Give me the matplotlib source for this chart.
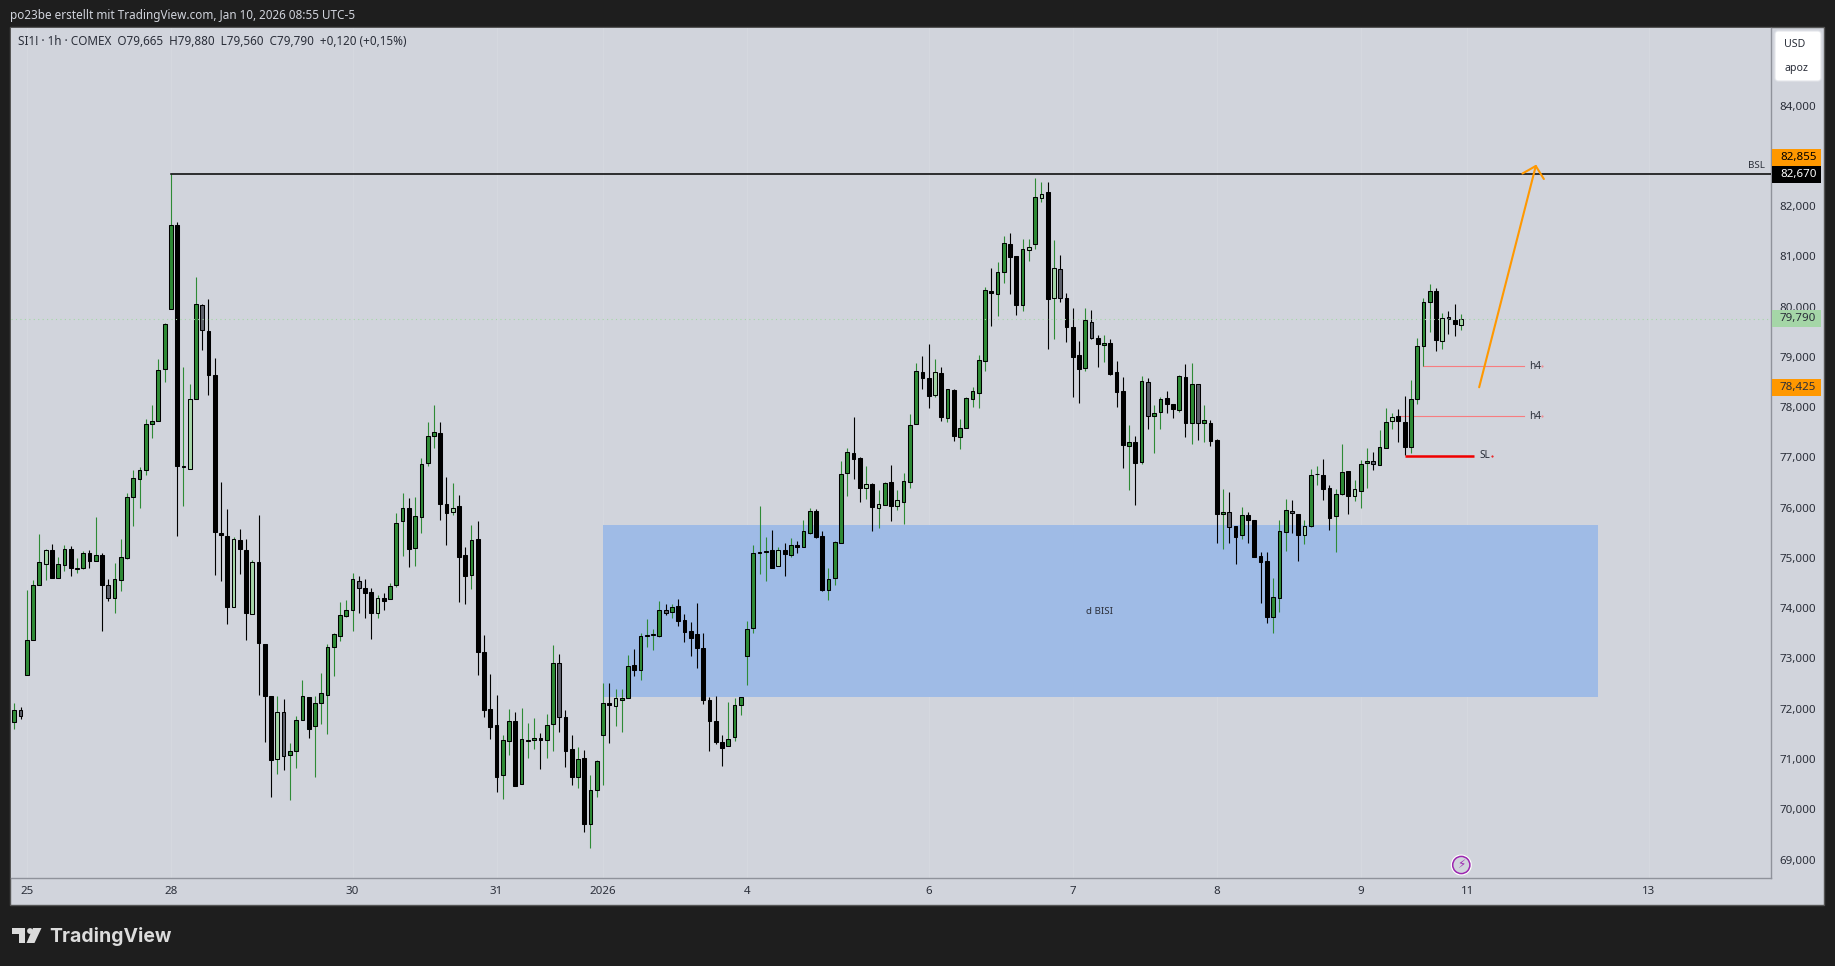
import matplotlib
matplotlib.use('Agg')
import matplotlib.pyplot as plt
from matplotlib.patches import Rectangle, Circle, Polygon, FancyBboxPatch
from matplotlib.transforms import Affine2D

plt.rcParams['font.family'] = ['Noto Sans', 'DejaVu Sans']

# hourly candles, SI1! COMEX
opens = [
    71775, 72000, 72705, 73405, 74485, 74915, 75180, 74640, 74880, 75200,
    74805, 74835, 75120, 74960, 75095, 74485, 74225, 74595, 75035, 76235,
    76605, 76770, 77685, 77745, 78780, 79990, 81645, 76845, 76805, 78185,
    80055, 79540, 78675, 75535, 75460, 74060, 75380, 75180, 73905, 74940,
    73325, 72290, 71025, 71975, 71100, 71180, 71800, 72260, 71680, 72135,
    72310, 73265, 73485, 73880, 74000, 74580, 74425, 74345, 73940, 74225,
    74205, 74485, 75755, 76015, 75220, 75835, 76910, 77450, 77510, 76095,
    75935, 76055, 75080, 74685, 75400, 73150, 72020, 71700, 70705, 71380,
    71780, 70525, 71395, 71400, 71440, 71400, 71720, 72935, 71860, 71220,
    70680, 71045, 69730, 70405, 71500, 72145, 72075, 72210, 72235, 72895,
    72795, 73485, 73505, 73485, 73985, 73945, 74065, 73790, 73570, 73510,
    73230, 72195, 71780, 71360, 71280, 71460, 72095, 73070, 73630, 75130,
    75155, 75180, 74860, 75185, 75095, 75285, 75255, 75530, 75965, 75460,
    74400, 74635, 75335, 76725, 77110, 77010, 76430, 76495, 76030, 76090,
    76535, 76070, 76150, 76545, 77700, 78730, 78605, 78280, 78700, 77820,
    78365, 77440, 77620, 78200, 78320, 78955, 80335, 80285, 80710, 81270,
    81030, 80070, 81160, 81280, 82195, 82305, 80205, 80770, 80195, 79615,
    79060, 78815, 79715, 79400, 79270, 79305, 78720, 78345, 77265, 77330,
    76945, 78525, 77860, 77925, 78205, 78085, 77965, 78625, 77720, 78485,
    77720, 77710, 77370, 75900, 75935, 75660, 75480, 75880, 75780, 75060,
    74965, 73860, 74240, 75555, 75955, 75900, 75495, 75670, 76690, 76675,
    76415, 75860, 76310, 76755, 76270, 76355, 76910, 76950, 76870, 77210,
    77750, 77845, 77730, 77230, 78185, 79240, 80115, 80335, 79340, 79815,
    79755, 79665,
]
highs = [
    72145, 72060, 74390, 74585, 75510, 75210, 75305, 75055, 75285, 75270,
    75025, 75165, 75190, 75845, 75130, 74605, 74930, 75405, 76320, 76780,
    76840, 77795, 78070, 78985, 79695, 82670, 81715, 78830, 78485, 80615,
    80080, 80175, 79005, 76535, 76000, 75440, 75605, 75405, 74990, 75880,
    73325, 72290, 72275, 72225, 71350, 71885, 72605, 72260, 72285, 72740,
    73320, 73545, 74155, 74190, 74725, 74675, 74620, 74430, 74295, 74330,
    74535, 75915, 76320, 76220, 76240, 77010, 77735, 78070, 77735, 76640,
    76520, 76280, 75245, 75685, 75765, 73495, 72720, 72305, 71505, 72020,
    71965, 72045, 71745, 71845, 71540, 71920, 73295, 73110, 72005, 71505,
    71270, 71210, 70710, 71010, 72540, 72540, 72420, 72420, 73100, 73220,
    73535, 73815, 73615, 74175, 74115, 74115, 74210, 73915, 73755, 74135,
    73535, 72265, 72285, 71505, 72165, 72245, 72270, 73770, 75285, 76060,
    75445, 75585, 75245, 75325, 75425, 75365, 75785, 76025, 76005, 75565,
    74830, 75365, 76960, 77215, 77835, 77045, 76860, 76525, 76380, 76540,
    76880, 76380, 76720, 77895, 78910, 79045, 79285, 78985, 78830, 78385,
    78385, 77795, 78225, 78430, 79065, 80420, 80800, 80915, 81435, 81495,
    81030, 81375, 81375, 82590, 82510, 82510, 81355, 81055, 80295, 80000,
    79345, 80000, 79960, 79465, 79465, 79385, 78945, 78630, 77675, 77455,
    78650, 78610, 78070, 78230, 78350, 78085, 78665, 78890, 78910, 78485,
    78070, 77775, 77395, 76400, 76340, 75660, 76045, 75945, 75780, 75150,
    75150, 74640, 75785, 76205, 76185, 75900, 75785, 76800, 76860, 77000,
    76480, 76400, 77295, 76755, 76580, 76970, 77215, 77135, 77575, 78015,
    77905, 77995, 78250, 78570, 79400, 80195, 80480, 80400, 79905, 79940,
    80080, 79880,
]
lows = [
    71630, 71820, 72705, 73405, 74485, 74585, 74640, 74640, 74770, 74680,
    74735, 74805, 74835, 74960, 73585, 74165, 73940, 74370, 75010, 75675,
    76030, 76685, 77415, 77745, 78530, 79990, 75460, 76055, 76805, 78185,
    79175, 78270, 74700, 74580, 73725, 74060, 74715, 73390, 73905, 72310,
    71360, 70265, 70740, 70815, 70220, 70860, 71800, 71440, 70680, 71730,
    71535, 72690, 73370, 73860, 73570, 73925, 73845, 73420, 73830, 74000,
    74205, 74460, 75070, 74855, 74875, 75530, 76865, 77225, 75790, 75295,
    75890, 74160, 74120, 74420, 72705, 71870, 71435, 70380, 70240, 71115,
    70500, 70525, 71055, 71235, 70835, 71055, 71195, 71575, 70875, 70520,
    70460, 69585, 69265, 70280, 70520, 71355, 71695, 71575, 72235, 72685,
    72610, 73265, 73205, 73465, 73900, 73840, 73680, 73365, 73085, 72845,
    72130, 71195, 71335, 70895, 71280, 71395, 71905, 72510, 73545, 74715,
    74575, 74835, 74860, 74675, 75050, 75130, 75255, 75510, 75425, 74370,
    74195, 74490, 75335, 76270, 76605, 76150, 76200, 75570, 75630, 76090,
    75770, 75985, 75705, 76430, 77700, 78395, 78020, 78230, 77760, 77735,
    77365, 77205, 77620, 78030, 78020, 78755, 79645, 79850, 80505, 80280,
    79865, 79950, 80935, 81180, 82115, 79195, 79385, 80130, 79330, 78240,
    78120, 78755, 79390, 78835, 78935, 78675, 78040, 76825, 76390, 76090,
    76905, 77600, 77115, 77600, 77915, 77815, 77940, 77435, 77305, 77375,
    77335, 77265, 75335, 75215, 75335, 74915, 75400, 75335, 75055, 74140,
    73740, 73545, 73960, 75175, 75535, 74975, 75315, 75650, 76490, 76190,
    75590, 75155, 76290, 75910, 76170, 76030, 76430, 76785, 76870, 77210,
    77600, 77345, 77070, 77125, 78100, 78850, 79530, 79155, 79195, 79490,
    79450, 79560,
]
closes = [
    72000, 71880, 73405, 74500, 74940, 75180, 74640, 74900, 75200, 74820,
    74835, 75120, 74960, 75095, 74485, 74225, 74605, 75045, 76235, 76615,
    76770, 77685, 77745, 78760, 79675, 81645, 76865, 76850, 78200, 80075,
    79555, 78660, 75555, 75495, 74060, 75415, 75200, 73925, 74940, 73345,
    72290, 71015, 71975, 71085, 71180, 71800, 72275, 71635, 72135, 72335,
    73265, 73510, 73890, 73985, 74605, 74440, 74335, 73940, 74225, 74180,
    74465, 75730, 76015, 75215, 75855, 76890, 77450, 77530, 76110, 75930,
    76015, 75055, 74675, 75380, 73165, 72010, 71675, 70680, 71400, 71780,
    70500, 71420, 71405, 71440, 71400, 71710, 72935, 71860, 71195, 70680,
    71025, 69730, 70405, 70985, 72135, 72110, 72235, 72245, 72875, 72795,
    73470, 73495, 73515, 73985, 73925, 74045, 73780, 73565, 73445, 73245,
    72210, 71790, 71375, 71255, 71435, 72095, 72255, 73610, 75120, 75140,
    75165, 74835, 75180, 75115, 75280, 75255, 75560, 75955, 75455, 74390,
    74605, 75340, 76695, 77130, 77005, 76430, 76495, 76050, 76095, 76515,
    76070, 76175, 76555, 77670, 78740, 78615, 78260, 78720, 77840, 78385,
    77460, 77610, 78205, 78345, 78960, 80355, 80305, 80710, 81290, 81025,
    80070, 81170, 81210, 82205, 82265, 80185, 80790, 80195, 79630, 79035,
    78795, 79755, 79410, 79290, 79300, 78695, 78335, 77285, 77330, 76925,
    78545, 77860, 77905, 78185, 78085, 77985, 78645, 77720, 78485, 77720,
    77765, 77365, 75900, 75935, 75640, 75455, 75880, 75790, 75055, 74955,
    73860, 74245, 75560, 75975, 75915, 75495, 75660, 76675, 76700, 76410,
    75830, 76295, 76735, 76270, 76395, 76890, 76950, 76890, 77230, 77730,
    77825, 77750, 77230, 78185, 79240, 80115, 80335, 79360, 79795, 79775,
    79675, 79790,
]
# candles TradingView paints in the paler colour
pale = [1, 5, 10, 15, 28, 30, 35, 38, 42, 43, 55, 58, 70, 87, 96, 104, 122, 136,
        138, 141, 147, 162, 164, 166, 167, 172, 181, 189, 194, 204, 206, 214,
        217, 220, 228, 229, 231]

price_ticks = [69000, 70000, 71000, 72000, 73000, 74000, 75000, 76000,
               77000, 78000, 79000, 80000, 81000, 82000, 84000]
date_pos = [2, 25, 54, 77, 94, 117, 146, 169, 192, 215, 232, 261]
date_labels = ['25', '28', '30', '31', '2026', '4', '6', '7', '8', '9', '11', '13']

bsl_level = 82670
last_price = 79790
target_price = 82855
entry_price = 78425
h4_levels = [78842, 77847]
h4_starts = [225, 221]
sl_level = 77063
zone_top = 75680
zone_bottom = 72260

BG = '#d1d4dc'
DARK = '#1e1e1e'
GREEN = '#2e8b36'
LIGHT = '#a5d6a7'
GREY = '#5d606b'
ORANGE = '#ff9800'
TXT = '#2a2e39'
W, H = 1835, 966

fig = plt.figure(figsize=(W / 100, H / 100), dpi=100, facecolor=DARK)
# top-left pixel coordinates for everything around the chart
pix = Affine2D().scale(1 / W, -1 / H).translate(0, 1) + fig.transFigure

fig.add_artist(Rectangle((10, 27), 1814, 878, transform=pix, fc=BG, ec='#555555', lw=1, zorder=-2))

ax = fig.add_axes([11 / W, 1 - 878 / H, 1760 / W, 850 / H], facecolor=BG)
ax.set_xlim(-0.53, 280.5)
ax.set_ylim(68663, 85572)
for name in ['top', 'left']:
    ax.spines[name].set_visible(False)
for name in ['right', 'bottom']:
    ax.spines[name].set_color('#8f929b')
    ax.spines[name].set_linewidth(1)

ax.yaxis.tick_right()
ax.set_yticks(price_ticks)
ax.set_yticklabels([f'{p:,}' for p in price_ticks])
ax.set_xticks(date_pos)
ax.set_xticklabels(date_labels)
ax.tick_params(axis='y', length=0, pad=6, labelsize=8.3, labelcolor=TXT)
ax.tick_params(axis='x', length=0, pad=6, labelsize=8.3, labelcolor=TXT)
for lab in ax.get_yticklabels():
    lab.set_va('center')
ax.get_xticklabels()[4].set_fontweight('bold')
ax.grid(axis='x', color='#d6d9e0', lw=0.7)
ax.set_axisbelow(True)

# blue zone
ax.add_patch(Rectangle((94, zone_bottom), 158.8, zone_top - zone_bottom, fc='#9fbbe6', ec='none', zorder=1))
ax.text(173.3, (zone_top + zone_bottom) / 2, 'd BISI', fontsize=7, color=TXT, ha='center', va='center', zorder=2)

# candles
xs = list(range(len(opens)))
wick_cols, body_cols, bottoms, heights = [], [], [], []
for i in xs:
    up = closes[i] >= opens[i]
    wick_cols.append(GREEN if up else 'black')
    if up:
        body_cols.append(LIGHT if i in pale else GREEN)
    else:
        body_cols.append(GREY if i in pale else 'black')
    bottoms.append(min(opens[i], closes[i]))
    heights.append(abs(closes[i] - opens[i]))
ax.vlines(xs, lows, highs, colors=wick_cols, lw=0.8, zorder=3)
ax.bar(xs, heights, bottom=bottoms, width=0.6, color=body_cols, edgecolor='black', lw=0.75, zorder=4)

# levels
ax.plot([25, 280.5], [bsl_level, bsl_level], color='black', lw=1.1, zorder=5)
ax.text(1765, 165.5, 'BSL', transform=pix, fontsize=7, color=TXT, ha='right', va='center')
ax.axhline(last_price, color=LIGHT, lw=0.8, ls=(0, (1, 3)), zorder=5)
for level, start in zip(h4_levels, h4_starts):
    ax.plot([start, 241.1], [level, level], color='#f77c80', lw=0.8, zorder=2.5)
    ax.text(241.8, level, 'h4', fontsize=7.2, color=TXT, va='center')
    ax.plot([244], [level], marker='.', ms=1, color='#f77c80')
ax.plot([222, 233], [sl_level, sl_level], color='#f00000', lw=1.8, zorder=5, solid_capstyle='butt')
ax.text(234, sl_level, 'SL', fontsize=7.2, color=TXT, va='center')
ax.plot([236], [sl_level], marker='.', ms=1, color='#f00000')

# target arrow
ax.annotate('', xy=(243, target_price), xytext=(233.9, entry_price),
            arrowprops=dict(arrowstyle='->,head_length=0.51,head_width=0.53', color=ORANGE,
                            lw=1.5, shrinkA=0, shrinkB=0, mutation_scale=15), zorder=6)

# price tags on the scale
tags = [(149, 166, ORANGE, f'{target_price:,}', 'black', 'normal'),
        (166, 183, 'black', f'{bsl_level:,}', 'white', 'bold'),
        (310, 327, LIGHT, f'{last_price:,}', TXT, 'normal'),
        (379, 396, ORANGE, f'{entry_price:,}', TXT, 'normal')]
for y0, y1, col, label, tcol, weight in tags:
    fig.add_artist(Rectangle((1771.5, y0), 49.5, y1 - y0, transform=pix, fc=col, ec='none', zorder=3))
    fig.text(1780, (y0 + y1) / 2, label, transform=pix, fontsize=8.3, color=tcol, fontweight=weight,
             va='center', ha='left', zorder=4)

# currency / unit box
fig.add_artist(FancyBboxPatch((1777, 33), 42, 46, boxstyle='round,pad=2,rounding_size=3', transform=pix,
                              fc='white', ec='#e3e5ea', lw=0.8, zorder=3))
fig.text(1784, 44.5, 'USD', transform=pix, fontsize=7.6, color=TXT, va='center', zorder=4)
fig.text(1784, 68.5, 'apoz', transform=pix, fontsize=7.6, color=TXT, va='center', zorder=4)

# header and legend
fig.text(10, 15, 'po23be erstellt mit TradingView.com, Jan 10, 2026 08:55 UTC-5', transform=pix,
         fontsize=8.45, color='#d1d4dc', va='center')
fig.text(18, 41.5, 'SI1! · 1h · COMEX  O79,665  H79,880  L79,560  C79,790  +0,120 (+0,15%)', transform=pix,
         fontsize=8.45, color=TXT, va='center')

# lightning badge
fig.add_artist(Circle((1461.3, 865), 10.5, transform=pix, fc='white', ec='none', zorder=3))
fig.add_artist(Circle((1461.3, 865), 8.6, transform=pix, fc=BG, ec='#9c27b0', lw=1.1, zorder=3))
fig.text(1461.3, 865, '\u26a1', transform=pix, fontsize=8.5, color='#9c27b0', family='DejaVu Sans',
         ha='center', va='center', zorder=4)

# TradingView logo
LOGO = '#dcdcdc'
fig.add_artist(Polygon([(12, 928), (25, 928), (25, 943), (19, 943), (19, 934), (12, 934)], transform=pix, fc=LOGO, ec='none'))
fig.add_artist(Circle((30, 931), 2.9, transform=pix, fc=LOGO, ec='none'))
fig.add_artist(Polygon([(33, 928), (41.5, 928), (34.5, 943), (26.5, 943)], transform=pix, fc=LOGO, ec='none'))
fig.text(49.5, 937, 'TradingView', transform=pix, fontsize=14, color=LOGO, fontweight='bold',
         family='Inter', va='center')

fig.savefig('out.png', dpi=100, facecolor=DARK)
